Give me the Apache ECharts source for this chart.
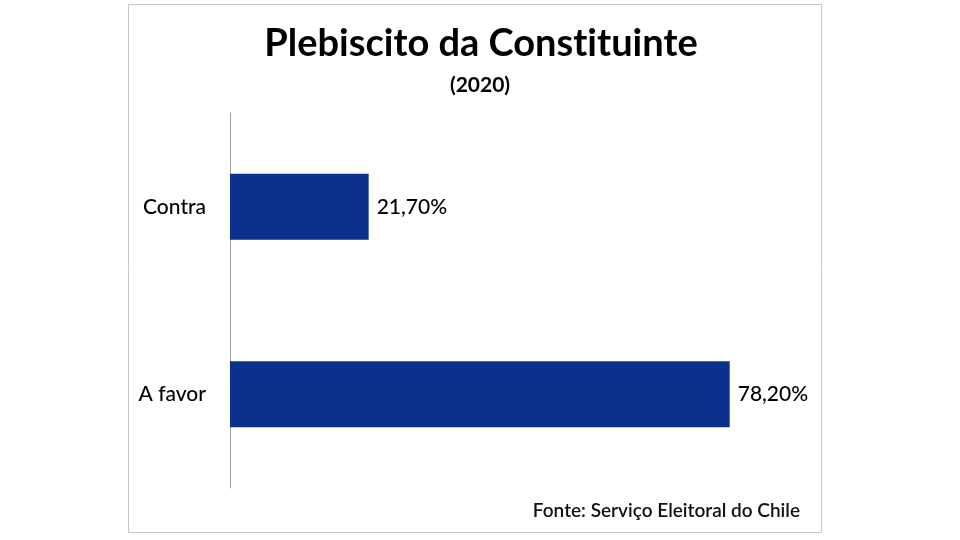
<!DOCTYPE html>
<html>
<head>
<meta charset="UTF-8">
<title>Plebiscito da Constituinte</title>
<script src="https://cdn.jsdelivr.net/npm/echarts@6/dist/echarts.min.js"></script>
<style>
  html, body { margin: 0; padding: 0; background: #fff; }
  #chart { width: 960px; height: 540px; }
</style>
</head>
<body>
<div id="chart"></div>
<script>
// data (bottom category first, as the y axis draws it)
var categories = ['A favor', 'Contra'];
var values = [78.2, 21.7];

var font = 'Lato, "Noto Sans", sans-serif';

var chart = echarts.init(document.getElementById('chart'));
var option = {
  backgroundColor: '#fff',
  animation: false,
  title: [
    {
      // split into two rich-text runs so Lato does not draw the "ti" ligature
      text: 'Plebiscito da Const{b|ituinte}',
      left: 476, top: 20, textAlign: 'center',
      textStyle: {
        fontFamily: font, fontWeight: 'bold', fontSize: 38, color: '#000',
        rich: { b: { fontFamily: font, fontWeight: 'bold', fontSize: 38, color: '#000' } }
      }
    },
    {
      text: '(2020)',
      left: 475, top: 70, textAlign: 'center',
      textStyle: { fontFamily: font, fontWeight: 'bold', fontSize: 21, color: '#000' }
    }
  ],
  graphic: [
    {
      type: 'rect',
      shape: { x: 128.5, y: 4.5, width: 693, height: 528 },
      style: { fill: 'none', stroke: '#c8c8c8', lineWidth: 1 },
      z: -1
    },
    {
      type: 'text',
      right: 960 - 800, top: 501,
      style: { text: 'Fonte: Serviço Eleitoral do Chile', fontFamily: font, fontWeight: 600, fontSize: 19, fill: '#111' }
    }
  ],
  grid: { left: 230, top: 113, width: 639, height: 375, containLabel: false },
  xAxis: {
    type: 'value', min: 0, max: 100, show: false
  },
  yAxis: {
    type: 'category',
    data: categories,
    axisLine: { lineStyle: { color: '#a0a0a0', width: 1 } },
    axisTick: { show: false },
    axisLabel: { margin: 24, fontFamily: font, fontWeight: 500, fontSize: 21, color: '#000' }
  },
  series: [{
    type: 'bar',
    data: values,
    barWidth: 66,
    itemStyle: { color: '#0b318c' },
    label: {
      show: true, position: 'right', distance: 8,
      fontFamily: font, fontWeight: 500, fontSize: 21, color: '#000',
      formatter: function (p) { return p.value.toFixed(2).replace('.', ',') + '%'; }
    }
  }]
};
chart.setOption(option);
</script>
</body>
</html>
